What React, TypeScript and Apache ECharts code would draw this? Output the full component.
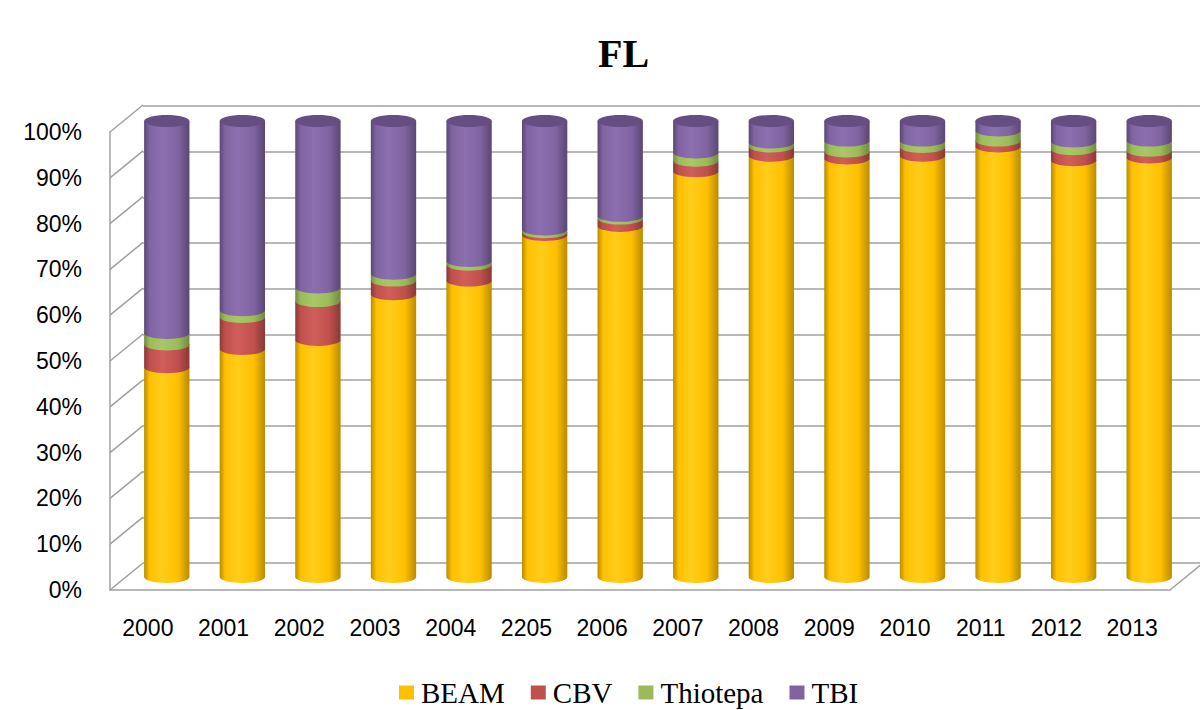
import React, { useEffect, useRef } from "react";
import * as echarts from "echarts";

const years = ["2000", "2001", "2002", "2003", "2004", "2205", "2006", "2007", "2008", "2009", "2010", "2011", "2012", "2013"];
const beam = [46, 50, 52, 62, 65, 75, 77, 89, 92.4, 91.8, 92.4, 94.4, 91.4, 92];
const cbv = [5, 7, 8.5, 3, 3.5, 0.6, 1.6, 2.3, 2, 1.5, 1.9, 1.3, 2.4, 1.5];
const thiotepa = [2.5, 1.5, 3, 1.5, 0.8, 0.6, 0.6, 1.8, 0.9, 2.4, 1.4, 2.2, 1.7, 2.2];
const tbi = [46.5, 41.5, 36.5, 33.5, 30.7, 23.8, 20.8, 6.9, 4.7, 4.3, 4.3, 2.1, 4.5, 4.3];
const seriesNames = ["BEAM", "CBV", "Thiotepa", "TBI"];
const yTicks = [0, 10, 20, 30, 40, 50, 60, 70, 80, 90, 100];

const palette = [
  { base: "#FFC000", light: "#FFCD1A", dark: "#B98B00" },
  { base: "#C0504D", light: "#D05E5A", dark: "#8A3936" },
  { base: "#9BBB59", light: "#A9C766", dark: "#718A40" },
  { base: "#8064A2", light: "#8C6FAF", dark: "#5A4774" },
];
const capColor = "#644E82";
const gridColor = "#A0A0A0";
const DEPTH_X = 33;
const DEPTH_Y = -27;

export default function App() {
  const ref = useRef<HTMLDivElement>(null);
  useEffect(() => {
    if (!ref.current) return;
    const chart = echarts.init(ref.current, null, { renderer: "svg" });
    const all = [beam, cbv, thiotepa, tbi];

    const barSeries = all.map((vals, k) => {
      const data = vals.map((v, i) => {
        let start = 0;
        for (let j = 0; j < k; j++) start += all[j][i];
        let isTop = true;
        for (let j = k + 1; j < all.length; j++) if (all[j][i] > 0) isTop = false;
        return [i, start, start + v, isTop ? 1 : 0];
      });
      const pal = palette[k];
      return {
        type: "custom",
        name: seriesNames[k],
        xAxisIndex: 2,
        yAxisIndex: 2,
        z: 10 + k,
        itemStyle: { color: pal.base },
        encode: { x: 0, y: [1, 2] },
        data,
        renderItem: (params: any, api: any) => {
          const i = api.value(0);
          const s = api.value(1);
          const e = api.value(2);
          const top = api.value(3);
          const pB = api.coord([i, s]);
          const pT = api.coord([i, e]);
          const cx = pB[0];
          const yB = pB[1];
          const yT = pT[1];
          const w = api.size([1, 0])[0] * 0.6;
          const rx = w / 2;
          const ry = 6;
          const l = cx - rx;
          const r = cx + rx;
          const fill = {
            type: "linear", x: 0, y: 0, x2: 1, y2: 0,
            colorStops: [
              { offset: 0, color: pal.dark },
              { offset: 0.12, color: pal.base },
              { offset: 0.4, color: pal.light },
              { offset: 0.75, color: pal.base },
              { offset: 1, color: pal.dark },
            ],
          };
          const children: any[] = [];
          if (e - s > 0) {
            children.push({
              type: "path",
              shape: { pathData: `M${l} ${yT} L${l} ${yB} A${rx} ${ry} 0 0 0 ${r} ${yB} L${r} ${yT} Z` },
              style: { fill },
            });
          }
          if (top) {
            children.push({
              type: "ellipse",
              shape: { cx, cy: yT, rx, ry },
              style: { fill: capColor },
            });
          }
          return { type: "group", children };
        },
      };
    });

    const option: any = {
      animation: false,
      backgroundColor: "#ffffff",
      title: {
        text: "FL",
        left: 593,
        top: 28,
        textStyle: { fontFamily: "Liberation Serif", fontWeight: "bold", fontSize: 40, color: "#000" },
      },
      legend: {
        data: seriesNames,
        left: 394,
        top: 673,
        icon: "rect",
        itemWidth: 15,
        itemHeight: 14,
        itemGap: 26,
        textStyle: { fontFamily: "Liberation Serif", fontSize: 29, color: "#000", padding: [0, 0, 0, 2] },
      },
      grid: [
        { left: 110, right: 30, top: 132, bottom: 120 },
        { left: 143, right: 0, top: 106, bottom: 147 },
        { left: 129, right: 13, top: 121, bottom: 133 },
      ],
      xAxis: [
        {
          type: "category", gridIndex: 0, data: years,
          axisLine: { show: true, lineStyle: { color: gridColor, width: 1.5 } },
          axisTick: { show: false },
          axisLabel: { fontFamily: "Liberation Sans", fontSize: 23, color: "#000", margin: 26 },
        },
        { type: "category", gridIndex: 1, data: years, show: false },
        { type: "category", gridIndex: 2, data: years, show: false },
      ],
      yAxis: [
        {
          type: "value", gridIndex: 0, min: 0, max: 100, interval: 10,
          axisLine: { show: true, lineStyle: { color: gridColor, width: 1.5 } },
          axisTick: { show: false },
          splitLine: { show: false },
          axisLabel: { formatter: "{value}%", fontFamily: "Liberation Sans", fontSize: 23, color: "#000", margin: 28 },
        },
        {
          type: "value", gridIndex: 1, min: 0, max: 100, interval: 10,
          axisLine: { show: false }, axisTick: { show: false }, axisLabel: { show: false },
          splitLine: { show: true, lineStyle: { color: gridColor, width: 1.5 } },
        },
        { type: "value", gridIndex: 2, min: 0, max: 100, interval: 10, show: false, splitLine: { show: false } },
      ],
      series: [
        {
          type: "custom",
          name: "walls",
          xAxisIndex: 0,
          yAxisIndex: 0,
          z: 1,
          silent: true,
          encode: { x: 0, y: 1 },
          data: yTicks.map((v) => [0, v]),
          renderItem: (params: any, api: any) => {
            const cs = params.coordSys;
            const y = api.coord([0, api.value(1)])[1];
            const x0 = cs.x;
            const children: any[] = [
              {
                type: "line",
                shape: { x1: x0, y1: y, x2: x0 + DEPTH_X, y2: y + DEPTH_Y },
                style: { stroke: gridColor, lineWidth: 1.5 },
              },
            ];
            if (api.value(1) === 0) {
              const x1 = cs.x + cs.width;
              children.push({
                type: "line",
                shape: { x1, y1: y, x2: x1 + DEPTH_X, y2: y + DEPTH_Y },
                style: { stroke: gridColor, lineWidth: 1.5 },
              });
            }
            return { type: "group", children };
          },
        },
        ...barSeries,
      ],
    };
    chart.setOption(option);
    return () => chart.dispose();
  }, []);
  return <div ref={ref} style={{ width: 1200, height: 710, position: "absolute", left: 0, top: 0 }} />;
}
